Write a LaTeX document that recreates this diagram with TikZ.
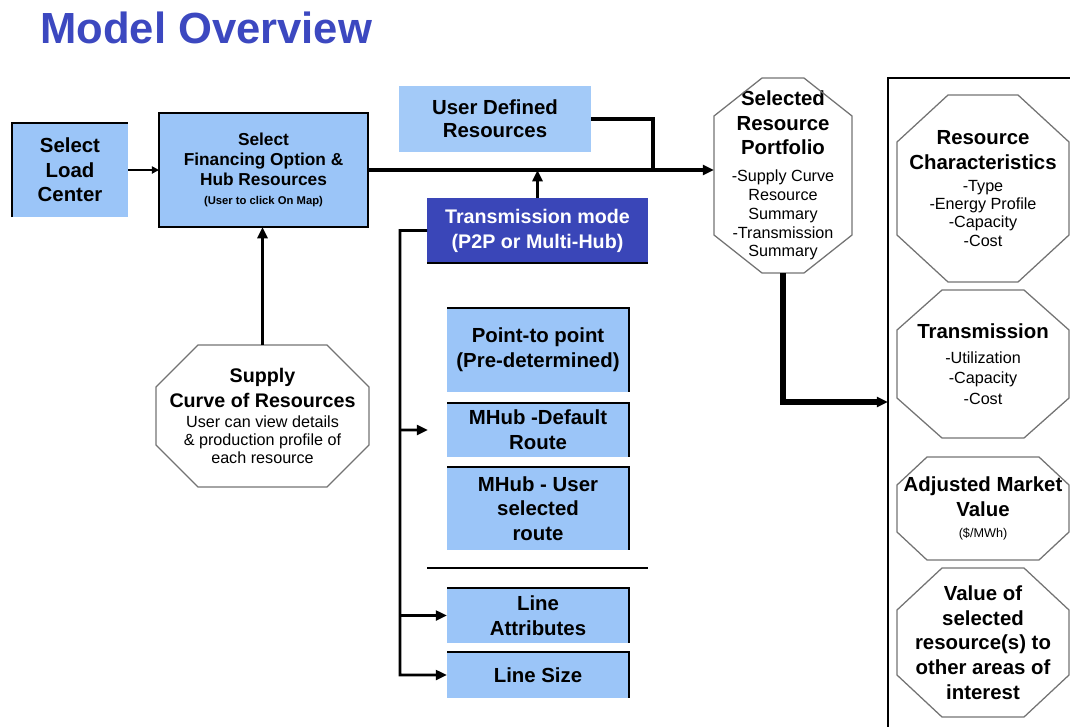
\documentclass[tikz,border=0pt]{standalone}
\usepackage{fontspec}
\setmainfont{Liberation Sans}
\usepackage{xcolor}
\usepackage{tikz}
\usetikzlibrary{arrows.meta,calc,positioning}

\definecolor{boxblue}{RGB}{155,197,248}
\definecolor{userblue}{RGB}{163,202,248}
\definecolor{modeblue}{RGB}{58,70,184}
\definecolor{titleblue}{RGB}{60,72,192}

% small lines inside the shapes
\newcommand{\subtxt}[1]{{\fontsize{11.5}{13}\selectfont\mdseries #1}}
% octagon round a text node: node, corner cut in x, corner cut in y
\newcommand{\octagon}[3]{%
	\draw[octline] ($(#1.north west)+(#2,0)$) -- ($(#1.north east)+(-#2,0)$)
		-- ($(#1.north east)+(0,#3)$) -- ($(#1.south east)+(0,-#3)$)
		-- ($(#1.south east)+(-#2,0)$) -- ($(#1.south west)+(#2,0)$)
		-- ($(#1.south west)+(0,-#3)$) -- ($(#1.north west)+(0,#3)$) -- cycle;}

\begin{document}
\begin{tikzpicture}[
			x=0.025cm, y=-0.025cm,
			boxw/.style={minimum width=#1*0.025cm},
			boxh/.style={minimum height=#1*0.025cm},
			maintxt/.style={font=\fontsize{14.5}{17.5}\selectfont\bfseries, align=center, inner sep=0pt, outer sep=0pt},
			bluebox/.style={maintxt, fill=boxblue},
			octtxt/.style={maintxt},
			octline/.style={black!55, line width=0.9pt},
			edgeline/.style={black, line width=1pt},
			thinconn/.style={line width=1.4pt, -{Triangle[length=5pt,width=5pt]}},
			mainconn/.style={line width=2.4pt},
			bus/.style={line width=2pt},
			heavy/.style={line width=3.6pt},
			>={Triangle[length=8pt,width=7pt]}
			]
			\useasboundingbox (0,0) rectangle (1070,726);
			% Title
			\node[anchor=base west, inner sep=0pt, text=titleblue, font=\fontsize{31}{36}\selectfont\bfseries] (title) at (40,43) {Model Overview};
			
			% Left part
			\node[bluebox, boxw=116, boxh=94] (load) at (70,170) {Select\\Load\\Center};
			\node[bluebox, draw, line width=1.5pt, boxw=209, boxh=114, font=\fontsize{12.3}{14.2}\selectfont\bfseries] (fin) at (263.5,170) {Select\\Financing Option \&\\Hub Resources\\[-0.9pt]{\fontsize{8}{9}\selectfont(User to click On Map)}};
			\node[octtxt, boxw=213, boxh=142, font=\fontsize{14}{17.5}\selectfont\bfseries] (supply) at (262.5,416) {Supply\\Curve of Resources\\[-3.3pt]\subtxt{User can view details}\\[-4.7pt]\subtxt{\& production profile of}\\[-4.7pt]\subtxt{each resource}};
			\octagon{supply}{42}{42}
			\draw[edgeline] (load.south west) -- (load.north west) -- (load.north east);
			
			% Middle part
			\node[bluebox, fill=userblue, boxw=192, boxh=66] (user) at (495,119) {User Defined\\[-1pt]Resources};
			\node[bluebox, fill=modeblue, text=white, boxw=221, boxh=65, font=\fontsize{14}{17.8}\selectfont\bfseries] (trans) at (537.5,230.5) {Transmission mode\\(P2P or Multi-Hub)};
			\draw[edgeline] (trans.south west) -- (trans.south east);
			\node[bluebox, boxw=182, boxh=84] (p2p) at (538,350) {Point-to point\\(Pre-determined)};
			\node[bluebox, boxw=182, boxh=54, below=0.275cm of p2p] (mhubdef) {MHub -Default\\Route};
			\node[bluebox, boxw=182, boxh=83, below=0.25cm of mhubdef] (mhubuser) {MHub - User\\selected\\route};
			\node[bluebox, boxw=182, boxh=55, below=0.95cm of mhubuser] (lattr) {Line\\Attributes};
			\node[bluebox, boxw=182, boxh=46, below=0.225cm of lattr] (lsize) {Line Size};
			\foreach \b in {p2p,mhubdef,mhubuser,lattr,lsize}
				\draw[edgeline] (\b.north west) -- (\b.north east) -- (\b.south east);
			\draw[line width=1pt] (427,568) -- (648,568);
			
			% Selected portfolio
			\node[octtxt, boxw=138, boxh=195] (port) at (783,175.5) {Selected\\Resource\\Portfolio\\[1.7pt]\subtxt{-Supply Curve}\\[-4.2pt]\subtxt{Resource}\\[-4.2pt]\subtxt{Summary}\\[-4.2pt]\subtxt{-Transmission}\\[-4.2pt]\subtxt{Summary}};
			\octagon{port}{48}{38}
			
			% Right panel
			\draw[line width=1.2pt] (888,740) -- (888,78) -- (1085,78);
			\node[octtxt, boxw=172, boxh=187] (rchar) at (983,188.5) {Resource\\Characteristics\\[-1.9pt]\subtxt{-Type}\\[-4.5pt]\subtxt{-Energy Profile}\\[-4.5pt]\subtxt{-Capacity}\\[-4.5pt]\subtxt{-Cost}};
			\node[octtxt, boxw=172, boxh=148] (rtrans) at (983,364) {Transmission\\\subtxt{-Utilization}\\[-3pt]\subtxt{-Capacity}\\[-3pt]\subtxt{-Cost}};
			\node[octtxt, boxw=172, boxh=103] (adjval) at (983,508.5) {Adjusted Market\\Value\\[-2.5pt]{\fontsize{9}{10}\selectfont\mdseries(\$/MWh)}};
			\node[octtxt, boxw=172, boxh=149] (otherval) at (983,642.5) {Value of\\selected\\resource(s) to\\other areas of\\interest};
			\octagon{rchar}{51}{47}
			\octagon{rtrans}{45}{40}
			\octagon{adjval}{30}{28}
			\octagon{otherval}{45}{42}
			
			% Connectors
			\coordinate (join) at (653,170);
			\coordinate (busend) at (400,675);
			\coordinate (mhubtip) at (428,430);
			\coordinate (panelin) at (888,402);
			\draw[thinconn] (load) -- (fin);
			\draw[->, mainconn] (fin.east) -- (fin.east -| port.west);
			\draw[mainconn] (user.east) -| (join);
			\draw[->, mainconn] (trans.north) -- (trans.north |- fin.east);
			\draw[->, mainconn] (supply.north) -- (supply.north |- fin.south);
			\draw[->, bus] (trans.west) -| (busend) -- (lsize.west);
			\draw[->, bus] (lattr.west -| busend) -- (lattr.west);
			\draw[->, bus] (mhubdef.west -| busend) -- (mhubtip);
			\draw[->, heavy] (port.south) |- (panelin);
		\end{tikzpicture}
\end{document}
